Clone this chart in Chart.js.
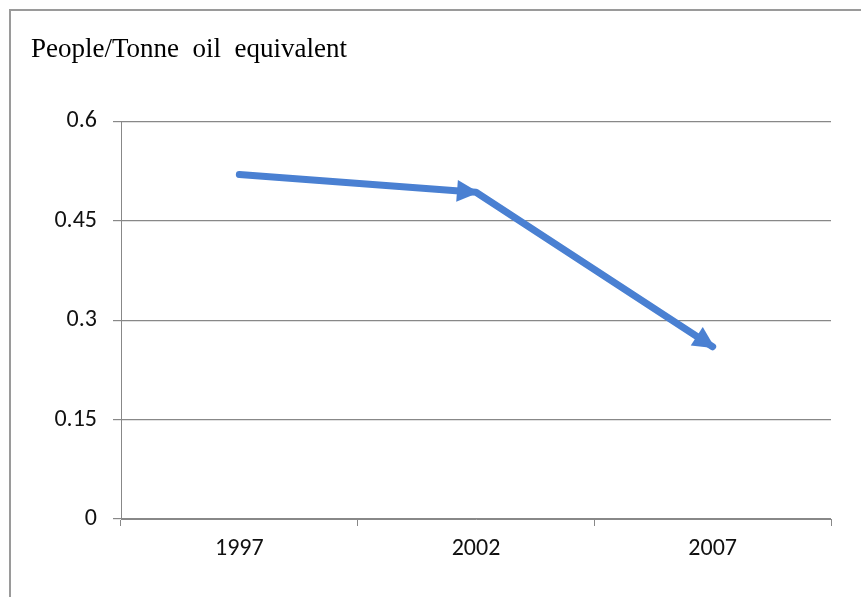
<!DOCTYPE html>
<html>
<head>
<meta charset="utf-8">
<script src="https://cdn.jsdelivr.net/npm/chart.js@4"></script>
<style>
  html, body { margin: 0; padding: 0; background: #fff; overflow: hidden; }
  .frame {
    position: absolute; left: 9px; top: 9px; width: 1000px; height: 1000px;
    border-top: 2px solid #9a9a9a; border-left: 2px solid #9a9a9a;
  }
  .chart-box { position: absolute; left: 0; top: 0; width: 861px; height: 597px; }
</style>
</head>
<body>
<div class="frame"></div>
<div class="chart-box"><canvas id="chart"></canvas></div>
<script>
const years = ["1997", "2002", "2007"];
const peoplePerTonne = [0.52, 0.493, 0.26];
const yTicks = [0, 0.15, 0.3, 0.45, 0.6];
const titleText = "People/Tonne  oil  equivalent";

const lineColor = "#4a80d2";
const gridColor = "#888888";
const serif = "'Liberation Serif', 'Times New Roman', serif";
const sans = "Carlito, Calibri, Lato, sans-serif";

// arrow heads at the end of each segment, like the original line style
const arrowHeads = {
    id: "arrowHeads",
    afterDatasetsDraw(chart) {
        const meta = chart.getDatasetMeta(0);
        const ctx = chart.ctx;
        ctx.save();
        ctx.fillStyle = lineColor;
        for (let i = 1; i < meta.data.length; i++) {
            const a = meta.data[i - 1];
            const b = meta.data[i];
            const ang = Math.atan2(b.y - a.y, b.x - a.x);
            const tipX = b.x + 3 * Math.cos(ang);
            const tipY = b.y + 3 * Math.sin(ang);
            const len = 22, half = 11;
            ctx.beginPath();
            ctx.moveTo(tipX, tipY);
            ctx.lineTo(tipX - len * Math.cos(ang) + half * Math.sin(ang),
                       tipY - len * Math.sin(ang) - half * Math.cos(ang));
            ctx.lineTo(tipX - len * Math.cos(ang) - half * Math.sin(ang),
                       tipY - len * Math.sin(ang) + half * Math.cos(ang));
            ctx.closePath();
            ctx.fill();
        }
        ctx.restore();
    }
};

new Chart(document.getElementById("chart"), {
    type: "line",
    data: {
        labels: years,
        datasets: [{
            data: peoplePerTonne,
            borderColor: lineColor,
            borderWidth: 7,
            borderCapStyle: "round",
            borderJoinStyle: "round",
            pointRadius: 0,
            tension: 0,
        }],
    },
    options: {
        responsive: true,
        maintainAspectRatio: false,
        animation: false,
        layout: { padding: { left: 31, right: 30, top: 0, bottom: 0 } },
        plugins: {
            legend: { display: false },
            tooltip: { enabled: false },
            title: {
                display: true,
                text: titleText,
                align: "start",
                color: "#000",
                font: { family: serif, size: 27, weight: "normal", lineHeight: 1.2 },
                padding: { top: 34, bottom: 55 },
            },
        },
        scales: {
            x: {
                offset: true,
                grid: {
                    offset: true,
                    drawOnChartArea: false,
                    drawTicks: true,
                    tickLength: 7,
                    color: gridColor,
                },
                border: { color: gridColor, width: 1 },
                ticks: {
                    color: "#111",
                    font: { family: sans, size: 24 },
                    padding: 9,
                    maxRotation: 0,
                },
                afterFit(scale) { scale.height = 78; },
            },
            y: {
                min: 0,
                max: 0.6,
                afterBuildTicks(scale) {
                    scale.ticks = yTicks.map(v => ({ value: v }));
                },
                grid: {
                    color: gridColor,
                    lineWidth: 1.2,
                    tickLength: 8,
                },
                border: { color: gridColor, width: 1 },
                ticks: {
                    color: "#111",
                    font: { family: sans, size: 24 },
                    padding: 16,
                    callback: v => String(v),
                },
                afterFit(scale) { scale.width = 90; },
            },
        },
    },
    plugins: [arrowHeads],
});
</script>
</body>
</html>
